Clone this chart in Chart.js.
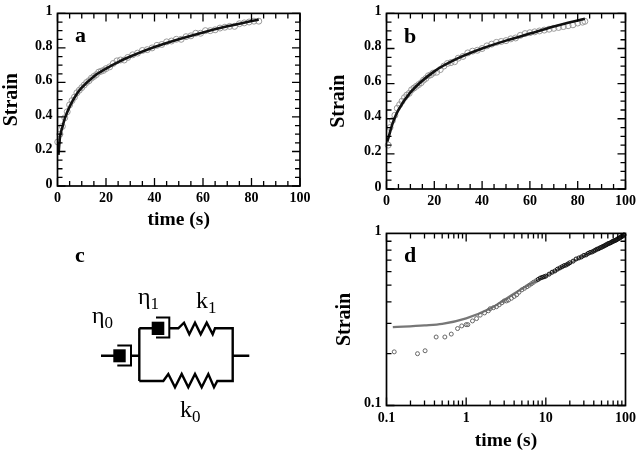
<!DOCTYPE html>
<html>
<head>
<meta charset="utf-8">
<script src="https://cdn.jsdelivr.net/npm/chart.js@4"></script>
<style>
    html, body { margin: 0; background: #fff; }
    #page { position: relative; width: 640px; height: 450px; overflow: hidden; }
    .panel { position: absolute; }
    svg { position: absolute; left: 0; top: 0; }
    svg text { font-family: "Liberation Serif", serif; fill: #000; }
    .letter { font-size: 22px; font-weight: bold; }
    .sym { font-size: 24px; }
    .sub { font-size: 17px; }
</style>
</head>
<body>
<div id="page">
    <div class="panel" style="left:0;top:0;width:320px;height:232px"><canvas id="ChartA"></canvas></div>
    <div class="panel" style="left:320px;top:0;width:320px;height:225px"><canvas id="ChartB"></canvas></div>
    <div class="panel" style="left:320px;top:220px;width:320px;height:233px"><canvas id="ChartD"></canvas></div>
    <svg width="640" height="450" fill="none" stroke="#000" stroke-width="2.4">
        <text class="letter" x="75" y="42" stroke="none">a</text>
        <text class="letter" x="404" y="43" stroke="none">b</text>
        <text class="letter" x="75" y="262" stroke="none">c</text>
        <text class="letter" x="404" y="262" stroke="none">d</text>

        <!-- spring and dashpot diagram -->
        <path d="M101 355.7H114 M131 355.7H139.3 M139.3 328.3V381 M139.3 328.3H152 M169.3 328.3H178.3 L184 322.7 189.3 334.3 195 322.7 200.7 334.3 206.7 322.7 212.7 334.3 215 328.3H232.7V381H217.3 L214 387.3 208.3 374 201.7 387.3 195 374 188.3 387.3 181.7 374 175 387.3 168.3 374 163.3 381H139.3 M232.7 355.7H249.3"/>
        <rect x="113.3" y="349.3" width="12.4" height="13" fill="#000" stroke="none"/>
        <rect x="151.7" y="321.7" width="12.6" height="13.3" fill="#000" stroke="none"/>
        <path d="M117.3 345.5H131V365.5H117.3 M156 317.5H169.3V337.5H156" stroke-width="2"/>
        <text class="sym" x="92" y="323" stroke="none">η<tspan class="sub" dy="5">0</tspan></text>
        <text class="sym" x="138" y="304" stroke="none">η<tspan class="sub" dy="5">1</tspan></text>
        <text class="sym" x="196" y="308" stroke="none">k<tspan class="sub" dy="5">1</tspan></text>
        <text class="sym" x="180" y="417" stroke="none">k<tspan class="sub" dy="5">0</tspan></text>
    </svg>
</div>
<script>
// panel a
const timeA = [0.1, 1, 2, 3, 4, 5, 6, 7, 8, 9, 10, 11, 12, 13, 14, 15, 16, 17, 18, 19, 20, 21.5, 23, 24.5, 26, 27.5, 29, 31, 33, 35, 37, 39, 41, 43, 45, 47, 49, 51, 53, 55, 57, 59, 61, 63, 65, 67, 69, 71, 73, 75, 77, 79, 81, 83];
const strainA = [0.255, 0.30, 0.345, 0.395, 0.43, 0.47, 0.495, 0.515, 0.54, 0.555, 0.57, 0.585, 0.60, 0.61, 0.625, 0.635, 0.645, 0.66, 0.665, 0.67, 0.68, 0.69, 0.71, 0.725, 0.73, 0.73, 0.745, 0.76, 0.77, 0.785, 0.79, 0.80, 0.815, 0.82, 0.835, 0.84, 0.85, 0.85, 0.865, 0.87, 0.885, 0.885, 0.90, 0.90, 0.905, 0.915, 0.92, 0.925, 0.925, 0.94, 0.945, 0.95, 0.955, 0.955];
const fitTimeA = [0.4, 1, 2, 3, 5, 8, 10, 15, 20, 25, 30, 40, 50, 60, 70, 83];
const fitStrainA = [0.18, 0.28, 0.34, 0.39, 0.46, 0.535, 0.57, 0.635, 0.68, 0.718, 0.75, 0.805, 0.85, 0.89, 0.925, 0.965];

// panel b
const timeB = [0.7, 1.5, 2.5, 3.5, 4.5, 5.5, 6.5, 7.5, 8.5, 9.5, 10.5, 11.5, 12.5, 13.5, 14.5, 15.5, 16.5, 17.5, 18.5, 19.5, 21, 22.5, 24, 25.5, 27, 28.5, 30, 32, 34, 36, 38, 40, 42, 44, 46, 48, 50, 52, 54, 56, 58, 60, 62, 64, 66, 68, 70, 72, 74, 76, 78, 80, 82, 83];
const strainB = [0.25, 0.35, 0.39, 0.42, 0.46, 0.48, 0.50, 0.52, 0.535, 0.545, 0.565, 0.575, 0.585, 0.595, 0.605, 0.62, 0.63, 0.645, 0.65, 0.66, 0.665, 0.68, 0.70, 0.715, 0.72, 0.725, 0.745, 0.755, 0.775, 0.785, 0.79, 0.80, 0.815, 0.825, 0.835, 0.84, 0.845, 0.855, 0.86, 0.875, 0.885, 0.89, 0.895, 0.90, 0.905, 0.91, 0.915, 0.92, 0.925, 0.93, 0.935, 0.945, 0.95, 0.955];
const fitTimeB = [0.3, 1, 2, 3, 5, 10, 20, 30, 40, 50, 60, 70, 83];
const fitStrainB = [0.27, 0.30, 0.35, 0.39, 0.45, 0.55, 0.67, 0.745, 0.80, 0.845, 0.885, 0.925, 0.97];

// panel d
const timeD = [0.125, 0.245, 0.305, 0.42, 0.54, 0.65, 0.78, 0.88, 1, 1.05, 1.2, 1.35, 1.5, 1.7, 1.9, 2, 2.2, 2.4, 2.6, 2.8, 3, 3.2, 3.4, 3.7, 4, 4.3, 4.6, 5, 5.4, 5.8, 6.2, 6.6, 7, 7.5, 8, 8.5, 9, 9.5, 10, 11, 12, 13, 14, 15, 16, 17, 18, 19, 20, 22, 24, 26, 28, 30, 32, 34, 36, 38, 40, 42, 44, 46, 48, 50, 52, 54, 56, 58, 60, 62, 64, 66, 68, 70, 72, 74, 76, 78, 80, 82, 84, 86, 88, 90, 92, 94, 96];
const strainD = [0.205, 0.2, 0.208, 0.25, 0.25, 0.26, 0.28, 0.29, 0.295, 0.295, 0.31, 0.32, 0.335, 0.345, 0.355, 0.365, 0.37, 0.375, 0.385, 0.395, 0.405, 0.405, 0.41, 0.42, 0.43, 0.44, 0.455, 0.47, 0.48, 0.49, 0.50, 0.51, 0.52, 0.53, 0.54, 0.55, 0.555, 0.56, 0.565, 0.58, 0.595, 0.605, 0.62, 0.63, 0.64, 0.65, 0.655, 0.665, 0.675, 0.69, 0.71, 0.72, 0.73, 0.745, 0.75, 0.765, 0.775, 0.78, 0.79, 0.80, 0.81, 0.815, 0.825, 0.83, 0.84, 0.845, 0.855, 0.86, 0.87, 0.875, 0.88, 0.885, 0.895, 0.90, 0.905, 0.91, 0.915, 0.92, 0.93, 0.935, 0.94, 0.945, 0.955, 0.96, 0.965, 0.975, 0.98];
const fitTimeD = [0.12, 0.3, 0.5, 1, 2, 3, 5, 10, 20, 30, 50, 97];
const fitStrainD = [0.285, 0.292, 0.298, 0.321, 0.366, 0.41, 0.477, 0.566, 0.673, 0.74, 0.83, 0.98];

const FONT = '"Liberation Serif", serif';

function toPoints(xs, ys) {
    return xs.map((x, i) => ({ x: x, y: ys[i] }));
}

// inward ticks on all four sides, plus the box
function tickValues(scale, minorStep, majorStep) {
    const out = [];
    if (scale.type === 'logarithmic') {
        for (let d = scale.min; d < scale.max * 0.99; d *= 10) {
            for (let m = 1; m < 10; m++) out.push({ v: d * m, major: m === 1 });
        }
    } else {
        const n = Math.round((scale.max - scale.min) / minorStep);
        const every = Math.round(majorStep / minorStep);
        for (let i = 0; i <= n; i++) out.push({ v: scale.min + i * minorStep, major: i % every === 0 });
    }
    return out;
}

const boxPlugin = {
    id: 'box',
    afterLayout(chart) {
        // tick labels sit a bit above their ticks in the original
        chart.scales.y.getLabelItems().forEach(item => { item.options.translation[1] -= 2; });
    },
    afterDraw(chart) {
        const { ctx, chartArea: a, scales } = chart;
        ctx.save();
        ctx.setLineDash([]);
        ctx.strokeStyle = '#000';
        ctx.lineWidth = 1.3;
        ctx.beginPath();
        tickValues(scales.x, 5, 20).forEach(t => {
            const px = scales.x.getPixelForValue(t.v);
            const len = t.major ? 8 : 5;
            ctx.moveTo(px, a.bottom); ctx.lineTo(px, a.bottom - len);
            ctx.moveTo(px, a.top); ctx.lineTo(px, a.top + len);
        });
        tickValues(scales.y, 0.05, 0.2).forEach(t => {
            const py = scales.y.getPixelForValue(t.v);
            const len = t.major ? 8 : 5;
            ctx.moveTo(a.left, py); ctx.lineTo(a.left + len, py);
            ctx.moveTo(a.right, py); ctx.lineTo(a.right - len, py);
        });
        ctx.stroke();
        ctx.lineWidth = 1.7;
        ctx.strokeRect(a.left, a.top, a.right - a.left, a.bottom - a.top);
        ctx.restore();
    }
};

function decadeLabel(value) {
    return [0.1, 1, 10, 100].includes(value) ? String(value) : '';
}

function plainLabel(value) {
    return String(Math.round(value * 100) / 100);
}

function makePanel(id, cfg) {
    const isLog = cfg.log;
    const axisType = isLog ? 'logarithmic' : 'linear';
    const xTicks = { color: '#000', padding: 4, maxRotation: 0, autoSkip: false, font: { family: FONT, size: 14, weight: 'bold' } };
    const yTicks = { color: '#000', padding: 5, autoSkip: false, font: { family: FONT, size: 14, weight: 'bold' } };
    if (isLog) {
        xTicks.callback = decadeLabel;
        yTicks.callback = decadeLabel;
    } else {
        xTicks.stepSize = 20;
        yTicks.stepSize = 0.2;
        xTicks.callback = plainLabel;
        yTicks.callback = plainLabel;
    }
    return new Chart(document.getElementById(id), {
        type: 'scatter',
        plugins: [boxPlugin],
        data: {
            datasets: [
                {
                    data: toPoints(cfg.fitX, cfg.fitY),
                    showLine: true,
                    cubicInterpolationMode: 'monotone',
                    borderColor: cfg.lineColor,
                    borderWidth: cfg.lineWidth,
                    pointRadius: 0,
                    order: isLog ? 1 : 0
                },
                {
                    data: toPoints(cfg.x, cfg.y),
                    showLine: false,
                    pointStyle: 'circle',
                    pointRadius: cfg.radius,
                    pointBorderWidth: 1,
                    pointBorderColor: c => (isLog && c.raw && c.raw.x >= 8) ? '#111' : cfg.dotColor,
                    pointBackgroundColor: 'rgba(0,0,0,0)',
                    clip: false,
                    order: isLog ? 0 : 1
                }
            ]
        },
        options: {
            responsive: true,
            maintainAspectRatio: false,
            animation: false,
            layout: { padding: { top: cfg.top, right: cfg.right, left: 0, bottom: 0 } },
            plugins: {
                legend: { display: false },
                tooltip: { enabled: false }
            },
            scales: {
                x: {
                    type: axisType,
                    min: cfg.xMin, max: cfg.xMax,
                    grid: { display: false, drawTicks: false },
                    border: { display: false },
                    ticks: xTicks,
                    title: {
                        display: cfg.xTitle,
                        text: 'time (s)',
                        color: '#000',
                        padding: 0,
                        font: { family: FONT, size: 19.5, weight: 'bold' }
                    },
                    afterFit(scale) { scale.height = cfg.xHeight; }
                },
                y: {
                    type: axisType,
                    min: cfg.yMin, max: 1,
                    grid: { display: false, drawTicks: false },
                    border: { display: false },
                    ticks: yTicks,
                    title: {
                        display: true,
                        text: 'Strain',
                        color: '#000',
                        padding: { top: cfg.yTitleGap, bottom: 0 },
                        font: { family: FONT, size: 20, weight: 'bold' }
                    },
                    afterFit(scale) { scale.width = cfg.yWidth; }
                }
            }
        }
    });
}

makePanel('ChartA', {
    x: timeA, y: strainA, fitX: fitTimeA, fitY: fitStrainA,
    xMin: 0, xMax: 100, yMin: 0, top: 9.5, right: 20, yWidth: 57.5, xHeight: 46,
    xTitle: true, yTitleGap: 0, radius: 3, dotColor: '#999', lineColor: '#111', lineWidth: 2.6
});
makePanel('ChartB', {
    x: timeB, y: strainB, fitX: fitTimeB, fitY: fitStrainB,
    xMin: 0, xMax: 100, yMin: 0, top: 12.5, right: 11, yWidth: 66.5, xHeight: 36,
    xTitle: false, yTitleGap: 7, radius: 3, dotColor: '#999', lineColor: '#111', lineWidth: 2.6
});
makePanel('ChartD', {
    x: timeD, y: strainD, fitX: fitTimeD, fitY: fitStrainD, log: true,
    xMin: 0.1, xMax: 100, yMin: 0.1, top: 9, right: 11, yWidth: 66.5, xHeight: 47.5,
    xTitle: true, yTitleGap: 13, radius: 2, dotColor: '#666', lineColor: '#777', lineWidth: 2.2
});
</script>
</body>
</html>
